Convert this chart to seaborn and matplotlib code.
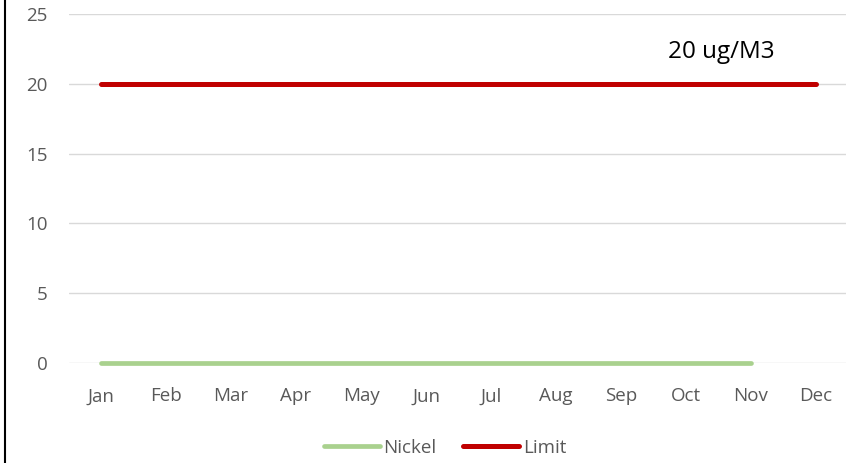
import numpy as np
import pandas as pd
import seaborn as sns
import matplotlib.pyplot as plt
from matplotlib.lines import Line2D

# Chart data
months = ["Jan", "Feb", "Mar", "Apr", "May", "Jun", "Jul", "Aug", "Sep", "Oct", "Nov", "Dec"]
nickel = [0, 0, 0, 0, 0, 0, 0, 0, 0, 0, 0, np.nan]
limit = [20] * 12
yticks = [0, 5, 10, 15, 20, 25]

df = pd.DataFrame({"Month": months, "Nickel": nickel, "Limit": limit})

sns.set_style("white")
plt.rcParams["font.family"] = ["Open Sans", "DejaVu Sans"]

fig = plt.figure(figsize=(8.46, 4.63), dpi=100)
ax = fig.add_axes([0.081, 0.216, 0.922, 0.754])

sns.lineplot(data=df, x="Month", y="Nickel", ax=ax, color="#A9D18E",
             linewidth=3.4, solid_capstyle="round", sort=False, label="Nickel")
sns.lineplot(data=df, x="Month", y="Limit", ax=ax, color="#C00000",
             linewidth=3.6, solid_capstyle="round", sort=False, label="Limit")
for ln in ax.lines:
    ln.set_clip_on(False)

ax.set_xlim(-0.5, len(months) - 0.5)
ax.set_ylim(0, 25)
ax.set_yticks(yticks)
ax.set_xlabel("")
ax.set_ylabel("")
ax.grid(axis="y", color="#D9D9D9", linewidth=1)
ax.set_axisbelow(True)
for s in ax.spines.values():
    s.set_visible(False)
ax.tick_params(axis="both", length=0, labelsize=13.5, colors="#595959")
ax.tick_params(axis="y", pad=15)
ax.tick_params(axis="x", pad=17.5)

ax.text(9.55, 22.25, "20 ug/M3", ha="center", va="center", fontsize=17.5, color="black")

ax.get_legend().remove()
handles, labels = ax.get_legend_handles_labels()
fig.legend(handles, labels, loc="center", bbox_to_anchor=(0.526, 0.033), ncol=2,
           frameon=False, handlelength=3.0, handletextpad=0.2, columnspacing=1.4,
           prop={"size": 13.5}, labelcolor="#595959")

# left border of the chart frame
fig.add_artist(Line2D([5 / 846, 5 / 846], [0, 1], transform=fig.transFigure,
                      color="black", linewidth=1.5))

fig.savefig("out.png", dpi=100)
